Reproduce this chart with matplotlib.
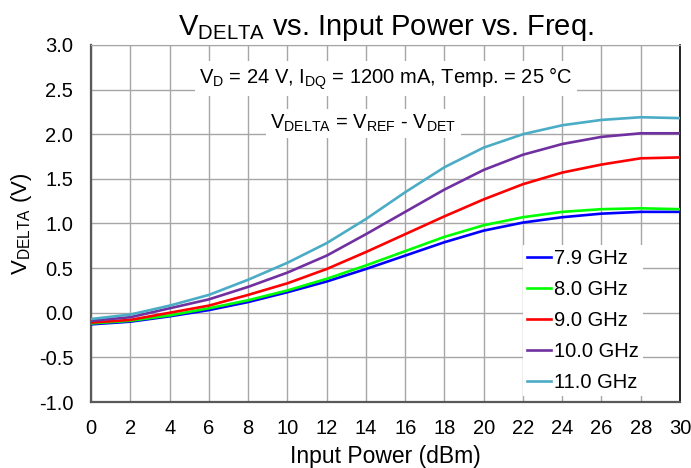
import matplotlib
matplotlib.use("Agg")
import matplotlib.pyplot as plt

plt.rcParams['font.family'] = ['Liberation Sans', 'DejaVu Sans']
plt.rcParams['mathtext.fontset'] = 'custom'
plt.rcParams['mathtext.rm'] = 'Liberation Sans'

pin = [0, 2, 4, 6, 8, 10, 12, 14, 16, 18, 20, 22, 24, 26, 28, 30]

v_79 = [-0.13, -0.10, -0.04, 0.03, 0.12, 0.23, 0.35, 0.49, 0.64, 0.79, 0.92, 1.01, 1.07, 1.11, 1.13, 1.13]
v_80 = [-0.12, -0.09, -0.03, 0.05, 0.14, 0.25, 0.38, 0.53, 0.69, 0.85, 0.98, 1.07, 1.13, 1.16, 1.17, 1.16]
v_90 = [-0.11, -0.08, 0.00, 0.08, 0.20, 0.33, 0.49, 0.68, 0.88, 1.08, 1.27, 1.44, 1.57, 1.66, 1.73, 1.74]
v_100 = [-0.09, -0.05, 0.05, 0.15, 0.29, 0.45, 0.64, 0.88, 1.13, 1.38, 1.60, 1.77, 1.89, 1.97, 2.01, 2.01]
v_110 = [-0.07, -0.02, 0.08, 0.20, 0.37, 0.56, 0.78, 1.05, 1.35, 1.63, 1.85, 2.00, 2.10, 2.16, 2.19, 2.18]

labels = ['7.9 GHz', '8.0 GHz', '9.0 GHz', '10.0 GHz', '11.0 GHz']
colors = ['#0000ff', '#00ff00', '#ff0000', '#7030a0', '#4bacc6']
series = [v_79, v_80, v_90, v_100, v_110]

fig, ax = plt.subplots(figsize=(6.91, 4.68), dpi=100)
fig.subplots_adjust(left=0.132, right=0.984, top=0.904, bottom=0.141)

for vals, lab, c in zip(series, labels, colors):
    ax.plot(pin, vals, color=c, lw=1.9, label=lab, zorder=3)

ax.set_xlim(0, 30)
ax.set_ylim(-1.0, 3.0)
ax.set_xticks(range(0, 31, 2))
ax.set_yticks([-1.0, -0.5, 0.0, 0.5, 1.0, 1.5, 2.0, 2.5, 3.0])
ax.set_yticklabels(['%.1f' % v for v in ax.get_yticks()])
ax.tick_params(length=0, labelsize=14.5)
ax.tick_params(axis='x', pad=12)
ax.tick_params(axis='y', pad=13)
ax.grid(True, color='#a6a6a6', lw=1.0, zorder=0)

for s in ['left', 'bottom']:
    ax.spines[s].set_color('#595959')
    ax.spines[s].set_linewidth(1.6)
ax.spines['top'].set_color('#a6a6a6')
ax.spines['right'].set_color('#000000')
ax.spines['right'].set_linewidth(1.2)

ax.set_title(r'$\mathregular{V_{DELTA}}$ vs. Input Power vs. Freq.', fontsize=21, pad=7)
ax.set_xlabel('Input Power (dBm)', fontsize=16.5, labelpad=5)
ax.set_ylabel(r'$\mathregular{V_{DELTA}}$ (V)', fontsize=16, labelpad=3)

box = dict(facecolor='white', edgecolor='none', pad=3)
ax.text(0.5, 0.905, r'$\mathregular{V_D}$ = 24 V, $\mathregular{I_{DQ}}$ = 1200 mA, Temp. = 25 °C',
        transform=ax.transAxes, ha='center', va='center', fontsize=14.5, bbox=box, zorder=4)
ax.text(0.462, 0.78, r'$\mathregular{V_{DELTA}}$ = $\mathregular{V_{REF}}$ - $\mathregular{V_{DET}}$',
        transform=ax.transAxes, ha='center', va='center', fontsize=14.5, bbox=box, zorder=4)

leg = ax.legend(loc='lower right', bbox_to_anchor=(0.955, -0.012), frameon=True, fancybox=False,
                edgecolor='none', framealpha=1.0, fontsize=14.5, handlelength=1.2,
                handletextpad=0.15, labelspacing=0.6, borderpad=0.2)
leg.set_zorder(5)

fig.savefig('out.png', dpi=100)
